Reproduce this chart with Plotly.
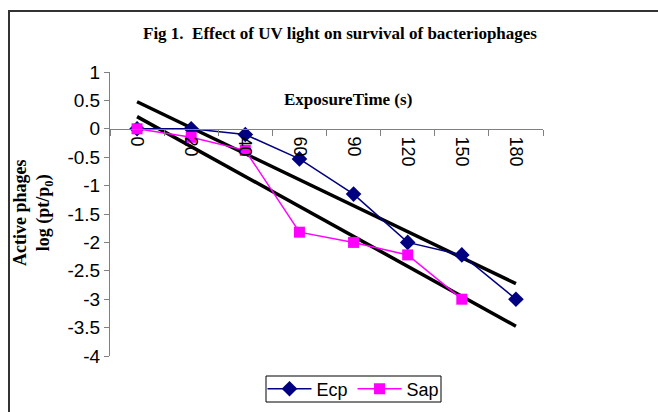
import numpy as np
import plotly.graph_objects as go

# ---- data ----
exposure_time = ["0", "20", "40", "60", "90", "120", "150", "180"]
ecp_values = [0.0, 0.0, -0.1, -0.53, -1.15, -2.0, -2.22, -3.0]
sap_values = [0.0, -0.15, -0.38, -1.82, -2.0, -2.22, -3.0]
y_tick_vals = [1, 0.5, 0, -0.5, -1, -1.5, -2, -2.5, -3, -3.5, -4]
y_tick_text = ["1", "0.5", "0", "-0.5", "-1", "-1.5", "-2", "-2.5", "-3", "-3.5", "-4"]

SERIF = "Liberation Serif, Times New Roman, serif"
SANS = "Liberation Sans, Arial, sans-serif"

# linear trend lines (Excel style, by category index)
def trend(vals, n_out):
    idx = np.arange(1, len(vals) + 1)
    slope, inter = np.polyfit(idx, vals, 1)
    return [slope * 1 + inter, slope * n_out + inter]

n = len(exposure_time)
ecp_trend = trend(ecp_values, n)
sap_trend = trend(sap_values, n)

fig = go.Figure()
fig.add_trace(go.Scatter(x=[exposure_time[0], exposure_time[-1]], y=ecp_trend,
                         mode="lines", line=dict(color="black", width=3.5),
                         showlegend=False, hoverinfo="skip"))
fig.add_trace(go.Scatter(x=[exposure_time[0], exposure_time[-1]], y=sap_trend,
                         mode="lines", line=dict(color="black", width=3.5),
                         showlegend=False, hoverinfo="skip"))
fig.add_trace(go.Scatter(x=exposure_time, y=ecp_values, name="Ecp",
                         mode="lines+markers",
                         line=dict(color="#000080", width=1.5),
                         marker=dict(symbol="diamond", size=12, color="#000080")))
fig.add_trace(go.Scatter(x=exposure_time[:len(sap_values)], y=sap_values, name="Sap",
                         mode="lines+markers",
                         line=dict(color="#FF00FF", width=1.5),
                         marker=dict(symbol="square", size=11, color="#FF00FF")))

fig.update_layout(
    width=658, height=412,
    margin=dict(l=110, r=115, t=72, b=56, autoexpand=False),
    paper_bgcolor="white", plot_bgcolor="white",
    xaxis=dict(type="category", categoryorder="array", categoryarray=exposure_time,
               range=[-0.5, 7.5], anchor="free", position=0.8, automargin=False,
               showline=True, linecolor="#808080", linewidth=1,
               ticks="outside", ticklen=6, tickcolor="#808080", tickson="boundaries",
               tickangle=90, ticklabelstandoff=3, showgrid=False, zeroline=False,
               tickfont=dict(family=SANS, size=18, color="black")),
    yaxis=dict(range=[-4, 1], tickvals=y_tick_vals, ticktext=y_tick_text,
               automargin=False,
               showline=True, linecolor="#808080", linewidth=1,
               ticks="outside", ticklen=5, tickcolor="#808080",
               showgrid=False, zeroline=False,
               tickfont=dict(family=SANS, size=19, color="black")),
    legend=dict(orientation="h", x=(353.5 - 110) / 433, xanchor="center",
                y=(356 - 389) / 284, yanchor="middle",
                bgcolor="rgba(0,0,0,0)", borderwidth=0,
                font=dict(family=SANS, size=18, color="black"),
                itemwidth=44, tracegroupgap=0),
    showlegend=True,
)

fig.add_annotation(text="<b>Fig 1.  Effect of UV light on survival of bacteriophages</b>",
                   xref="paper", yref="paper",
                   x=(340 - 110) / 433, y=(356 - 34) / 284,
                   xanchor="center", yanchor="middle", showarrow=False,
                   font=dict(family=SERIF, size=17, color="black"))
fig.add_annotation(text="<b>ExposureTime (s)</b>", xref="paper", yref="paper",
                   x=(348 - 110) / 433, y=(356 - 99) / 284, showarrow=False,
                   xanchor="center", yanchor="middle",
                   font=dict(family=SERIF, size=17, color="black"))
fig.add_annotation(text="<b>Active phages<br>log (pt/p<sub>0</sub>)</b>",
                   xref="paper", yref="paper",
                   x=(33 - 110) / 433, y=(356 - 213) / 284, textangle=-90,
                   xanchor="center", yanchor="middle", showarrow=False,
                   font=dict(family=SERIF, size=18, color="black"))

# outer chart border (extends past the right and bottom edges)
fig.add_shape(type="rect", xref="paper", yref="paper",
              x0=(9 - 110) / 433, x1=(680 - 110) / 433,
              y0=(356 - 430) / 284, y1=(356 - 11) / 284,
              line=dict(color="#333333", width=2), fillcolor="rgba(0,0,0,0)",
              layer="below")
# legend frame
fig.add_shape(type="rect", xref="paper", yref="paper",
              x0=(266 - 110) / 433, x1=(441 - 110) / 433,
              y0=(356 - 402) / 284, y1=(356 - 376) / 284,
              line=dict(color="black", width=1), fillcolor="rgba(0,0,0,0)",
              layer="below")

fig.write_html("out.html", config={"displayModeBar": False},
               post_script="document.body.style.margin='0';document.body.style.overflow='hidden';")
